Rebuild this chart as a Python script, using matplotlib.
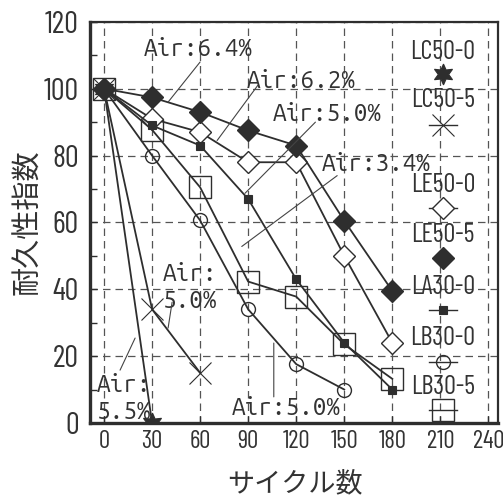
import matplotlib
matplotlib.use("Agg")
import matplotlib.pyplot as plt
from matplotlib import font_manager
from matplotlib.lines import Line2D

# ---------------- data ----------------
cycles = [0, 30, 60, 90, 120, 150, 180]
series_names = ["LC50-0", "LC50-5", "LE50-0", "LE50-5", "LA30-0", "LB30-0", "LB30-5"]
lc50_0 = [100, 0]
lc50_5 = [100, 34, 15]
le50_0 = [100, 91, 87, 78, 78, 50, 24]
le50_5 = [100, 97.4, 93, 87.5, 83, 60.5, 39.5]
la30_0 = [100, 89, 83, 67, 43, 24, 10]
lb30_0 = [100, 80, 60.6, 34, 17.6, 10]
lb30_5 = [100, 87.7, 70.5, 42.3, 37.8, 23.5, 13.2]
series_values = [lc50_0, lc50_5, le50_0, le50_5, la30_0, lb30_0, lb30_5]

x_ticks = [0, 30, 60, 90, 120, 150, 180, 210, 240]
y_ticks = [0, 20, 40, 60, 80, 100, 120]
x_label = "サイクル数"
y_label = "耐久性指数"

air_labels = ["Air:6.4%", "Air:6.2%", "Air:5.0%", "Air:3.4%", "Air:\n5.0%", "Air:\n5.5%", "Air:5.0%"]

# ---------------- styles / layout ----------------
avail = {f.name for f in font_manager.fontManager.ttflist}
def pick(cands):
    return [f for f in cands if f in avail] + ["DejaVu Sans"]

narrow = pick(["Liberation Sans Narrow", "Arial Narrow", "Barlow Condensed", "Roboto Condensed",
               "Archivo Narrow", "PT Sans Narrow", "Fira Sans Condensed", "Liberation Sans"])[:1]
mono = pick(["Ubuntu Mono", "Roboto Mono", "DejaVu Sans Mono"])[:1]
cjk = ["Noto Sans CJK JP", "DejaVu Sans"]

ink = "#2e2e2e"
styles = [
    dict(marker=(6, 1, 0), ms=15, mfc=ink, mec=ink, mew=0.8),
    dict(marker="x", ms=16, mfc="none", mec=ink, mew=0.8),
    dict(marker="D", ms=11, mfc="white", mec=ink, mew=1.0),
    dict(marker="D", ms=11, mfc=ink, mec=ink, mew=1.0),
    dict(marker="s", ms=5.5, mfc=ink, mec=ink, mew=0.8),
    dict(marker="o", ms=10, mfc="none", mec=ink, mew=1.0),
    dict(marker="s", ms=16, mfc="none", mec=ink, mew=1.0),
]
zorders = [9, 5, 6, 7, 6, 5, 4]

# annotation layout: (text x, text y, line start, line end) in data coords
ann_layout = [
    (25, 112, (60, 108), (40, 96)),
    (89.4, 102.4, (96, 101), (70.6, 84.5)),
    (105.6, 92.5, (132, 90), (88, 68.7)),
    (136, 77.6, (145.6, 74), (86, 52.8)),
    (36.9, 40.6, (42.5, 36.1), (40, 28.4)),
    (-4.4, 7.2, (19.4, 25.4), (10, 15.8)),
    (80, 4.5, (106, 23.9), (106, 7.8)),
]

# legend layout (axes fraction)
leg_x = 0.865
leg_text_y = [0.925, 0.805, 0.594, 0.469, 0.339, 0.212, 0.090]
leg_mark_y = [0.870, 0.743, 0.536, 0.411, 0.282, 0.152, 0.032]
leg_has_line = [False, True, True, False, True, True, True]

fig = plt.figure(figsize=(5.03, 4.97), dpi=100)
ax = fig.add_axes([0.179, 0.149, 0.811, 0.807])

for name, vals, st, z in zip(series_names, series_values, styles, zorders):
    ax.plot(cycles[:len(vals)], vals, color=ink, lw=1.3, zorder=z, **st)

ax.set_xlim(-8.75, 246)
ax.set_ylim(0, 120)
ax.set_xticks(x_ticks)
ax.set_yticks(y_ticks)
ax.set_yticks(range(10, 120, 20), minor=True)
ax.set_xticklabels([str(v) for v in x_ticks], family=narrow, fontsize=18, color="#333")
ax.set_yticklabels([str(v) for v in y_ticks], family=narrow, fontsize=22, color="#333")
ax.tick_params(axis="both", which="both", direction="in", length=5, width=1, color=ink)
ax.tick_params(axis="x", pad=5)
ax.tick_params(axis="y", pad=8)

ax.grid(True, which="major", color="#555", lw=0.9, linestyle=(0, (6, 4)))
ax.set_axisbelow(True)

for side, lw in [("left", 2.4), ("bottom", 2.4), ("top", 1.6), ("right", 1.6)]:
    ax.spines[side].set_linewidth(lw)
    ax.spines[side].set_color(ink)

# annotations
for txt, (tx, ty, p0, p1) in zip(air_labels, ann_layout):
    ax.text(tx, ty, txt, family=mono, fontsize=17.5, color="#333",
            ha="left", va="center", linespacing=1.15, zorder=10)
    ax.annotate("", xy=p1, xytext=p0,
                arrowprops=dict(arrowstyle="-", lw=0.8, color="#444",
                                shrinkA=0, shrinkB=0), zorder=10)

# manual legend (label above symbol)
for name, st, ty, my, hl in zip(series_names, styles, leg_text_y, leg_mark_y, leg_has_line):
    ax.text(leg_x, ty, name, transform=ax.transAxes, family=narrow, fontsize=19,
            color="#333", ha="center", va="center", zorder=10)
    if hl:
        ax.add_line(Line2D([leg_x - 0.035, leg_x + 0.035], [my, my], transform=ax.transAxes,
                           color=ink, lw=1.0, zorder=10))
    ax.add_line(Line2D([leg_x], [my], transform=ax.transAxes, linestyle="none",
                       zorder=11, **st))

fig.text(28 / 503, 1 - 222 / 497, y_label, rotation=90, family=cjk, fontsize=21,
         color="#333", ha="center", va="center")
fig.text(295 / 503, 1 - 484 / 497, x_label, family=cjk, fontsize=19.5,
         color="#333", ha="center", va="center")

fig.savefig("out.png", dpi=100, facecolor="white")
